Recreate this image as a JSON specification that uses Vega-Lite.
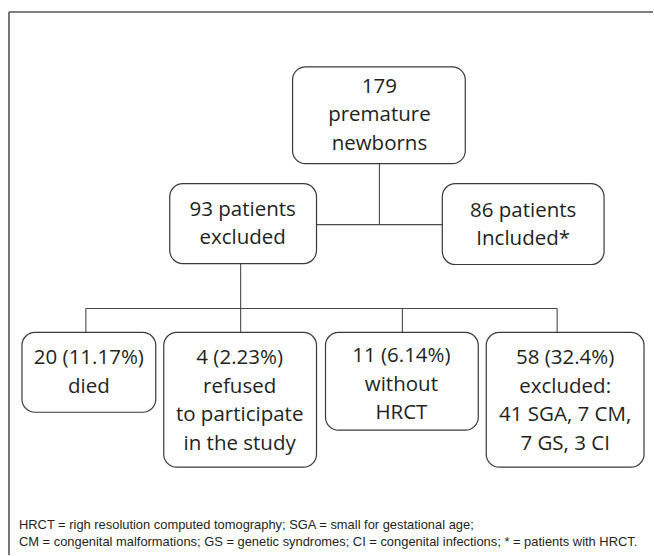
{
  "$schema": "https://vega.github.io/schema/vega-lite/v6.json",
  "width": 654,
  "height": 556,
  "autosize": {"type": "fit", "contains": "padding"},
  "padding": 0,
  "background": "white",
  "config": {"view": {"stroke": null}},
  "datasets": {
    "frame": [
      {"x1": 9, "x2": 654, "y1": 12, "y2": 12, "part": "top"},
      {"x1": 9, "x2": 9, "y1": 12, "y2": 556, "part": "left"}
    ],
    "links": [
      {"x1": 380, "x2": 380, "y1": 164, "y2": 225},
      {"x1": 317, "x2": 443, "y1": 225, "y2": 225},
      {"x1": 241, "x2": 241, "y1": 264, "y2": 309},
      {"x1": 86, "x2": 558, "y1": 309, "y2": 309},
      {"x1": 86, "x2": 86, "y1": 309, "y2": 333},
      {"x1": 241, "x2": 241, "y1": 309, "y2": 333},
      {"x1": 403, "x2": 403, "y1": 309, "y2": 333},
      {"x1": 558, "x2": 558, "y1": 309, "y2": 333}
    ],
    "boxes": [
      {"id": "total", "x1": 293, "x2": 466, "y1": 67, "y2": 164, "cx": 380, "ty": 87, "label": "179\npremature\nnewborns"},
      {"id": "excluded", "x1": 170, "x2": 317, "y1": 184, "y2": 264, "cx": 243, "ty": 210, "label": "93 patients\nexcluded"},
      {"id": "included", "x1": 443, "x2": 605, "y1": 184, "y2": 265, "cx": 524, "ty": 211, "label": "86 patients\nIncluded*"},
      {"id": "died", "x1": 22, "x2": 156, "y1": 333, "y2": 413, "cx": 89, "ty": 359, "label": "20 (11.17%)\ndied"},
      {"id": "refused", "x1": 164, "x2": 317, "y1": 333, "y2": 468, "cx": 240, "ty": 359, "label": "4 (2.23%)\nrefused\nto participate\nin the study"},
      {"id": "nohrct", "x1": 326, "x2": 479, "y1": 333, "y2": 431, "cx": 402, "ty": 357, "label": "11 (6.14%)\nwithout\nHRCT"},
      {"id": "other", "x1": 487, "x2": 645, "y1": 333, "y2": 468, "cx": 566, "ty": 359, "label": "58 (32.4%)\nexcluded:\n41 SGA, 7 CM,\n7 GS, 3 CI"}
    ],
    "notes": [
      {"x": 19, "y": 526, "label": "HRCT = righ resolution computed tomography; SGA = small for gestational age;"},
      {"x": 19, "y": 543, "label": "CM = congenital malformations; GS = genetic syndromes; CI = congenital infections; * = patients with HRCT."}
    ]
  },
  "layer": [
    {
      "data": {"name": "frame"},
      "mark": {"type": "rule", "color": "#555555", "strokeWidth": 1.6},
      "encoding": {
        "x": {"field": "x1", "type": "quantitative", "scale": {"domain": [0, 654], "nice": false, "zero": false}, "axis": null},
        "x2": {"field": "x2"},
        "y": {"field": "y1", "type": "quantitative", "scale": {"domain": [0, 556], "nice": false, "zero": false, "reverse": true}, "axis": null},
        "y2": {"field": "y2"}
      }
    },
    {
      "data": {"name": "links"},
      "mark": {"type": "rule", "color": "#4a4a4a", "strokeWidth": 1.1},
      "encoding": {
        "x": {"field": "x1", "type": "quantitative", "axis": null},
        "x2": {"field": "x2"},
        "y": {"field": "y1", "type": "quantitative", "axis": null},
        "y2": {"field": "y2"}
      }
    },
    {
      "data": {"name": "boxes"},
      "mark": {"type": "rect", "fill": "white", "stroke": "#3a3a3a", "strokeWidth": 1.2, "cornerRadius": 13},
      "encoding": {
        "x": {"field": "x1", "type": "quantitative", "axis": null},
        "x2": {"field": "x2"},
        "y": {"field": "y1", "type": "quantitative", "axis": null},
        "y2": {"field": "y2"}
      }
    },
    {
      "data": {"name": "boxes"},
      "mark": {"type": "text", "lineBreak": "\n", "align": "center", "baseline": "middle", "font": "Open Sans", "fontSize": 20.5, "lineHeight": 28.5, "color": "#231f20"},
      "encoding": {
        "x": {"field": "cx", "type": "quantitative", "axis": null},
        "y": {"field": "ty", "type": "quantitative", "axis": null},
        "text": {"field": "label", "type": "nominal"}
      }
    },
    {
      "data": {"name": "notes"},
      "mark": {"type": "text", "align": "left", "baseline": "middle", "font": "Liberation Sans", "fontSize": 12.9, "color": "#231f20"},
      "encoding": {
        "x": {"field": "x", "type": "quantitative", "axis": null},
        "y": {"field": "y", "type": "quantitative", "axis": null},
        "text": {"field": "label", "type": "nominal"}
      }
    }
  ]
}
